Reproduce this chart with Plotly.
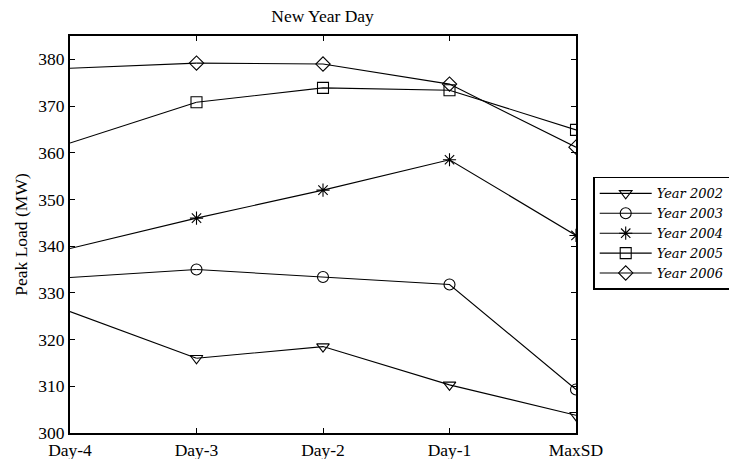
import plotly.graph_objects as go

days = ["Day-4", "Day-3", "Day-2", "Day-1", "MaxSD"]
y2002 = [326.0, 316.0, 318.5, 310.3, 303.8]
y2003 = [333.3, 335.0, 333.4, 331.8, 309.3]
y2004 = [339.5, 346.0, 352.0, 358.5, 342.3]
y2005 = [362.1, 370.8, 373.9, 373.4, 364.9]
y2006 = [378.1, 379.2, 379.0, 374.7, 361.2]

series = [
    ("Year 2002", y2002, "triangle-down-open"),
    ("Year 2003", y2003, "circle-open"),
    ("Year 2004", y2004, "asterisk-open"),
    ("Year 2005", y2005, "square-open"),
    ("Year 2006", y2006, "diamond-open"),
]

SERIF = "Liberation Serif"

fig = go.Figure()
for name, vals, sym in series:
    # first segment (Day-4 -> Day-3) is drawn without a marker at Day-4
    fig.add_trace(go.Scatter(
        x=days[:2], y=vals[:2], mode="lines", showlegend=False, hoverinfo="skip",
        line=dict(color="black", width=1.1),
    ))
    fig.add_trace(go.Scatter(
        x=days[1:], y=vals[1:], name=name, mode="lines+markers",
        line=dict(color="black", width=1.1),
        marker=dict(symbol=sym, size=11, color="black", line=dict(width=1.1, color="black")),
    ))

axis_common = dict(
    showline=True, linecolor="black", linewidth=2, mirror="allticks",
    ticks="inside", ticklen=5, tickcolor="black", tickwidth=1,
    showgrid=False, zeroline=False,
    tickfont=dict(family=SERIF, size=17.5, color="black"),
)

fig.update_xaxes(type="category", range=[0, 4], **axis_common)
fig.update_yaxes(range=[300, 385], dtick=10,
                 title=dict(text="Peak Load (MW)", standoff=6,
                            font=dict(family=SERIF, size=17.5, color="black")),
                 **axis_common)

fig.update_layout(
    width=729, height=459,
    margin=dict(l=70, r=153, t=36, b=26, autoexpand=False),
    paper_bgcolor="white", plot_bgcolor="white",
    title=dict(text="New Year Day", x=0.4425, xanchor="center", y=0.965, yanchor="middle",
               font=dict(family=SERIF, size=17.5, color="black")),
    legend=dict(
        x=1.034, xanchor="left", y=0.645, yanchor="top",
        bordercolor="black", borderwidth=1.5, bgcolor="white",
        font=dict(family="DejaVu Serif", size=13, color="black", style="italic"),
        itemwidth=52, tracegroupgap=0,
    ),
    showlegend=True,
)

fig.write_html("out.html")
